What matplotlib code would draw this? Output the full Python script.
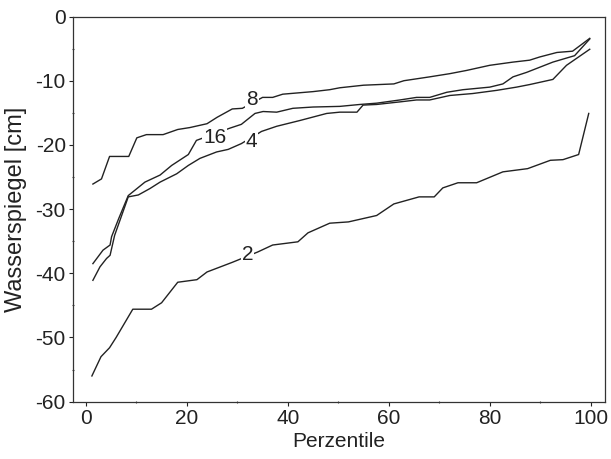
import matplotlib
matplotlib.use("Agg")
import matplotlib.pyplot as plt
from matplotlib.ticker import MultipleLocator

plt.rcParams['font.family'] = ['Liberation Sans', 'DejaVu Sans']
plt.rcParams['axes.unicode_minus'] = False

# Data (percentile, water level in cm)
p2 = [1.2, 3, 4.7, 6, 9.3, 13, 15, 18.2, 22, 24, 29, 34, 37, 42, 44, 48.3, 52, 57.6, 61, 66,
      69, 70.7, 73.7, 77.4, 82.6, 87.5, 92, 94.5, 97.6, 99.6]
v2 = [-56, -53, -51.6, -50, -45.6, -45.6, -44.6, -41.4, -41, -39.8, -38.3, -36.7, -35.6, -35.1,
      -33.7, -32.2, -32, -31, -29.2, -28.1, -28.1, -26.7, -25.9, -25.9, -24.2, -23.7, -22.4,
      -22.3, -21.5, -15.1]

p8 = [1.4, 3.1, 4.7, 8.5, 10.1, 12, 15.3, 18.2, 20.6, 24, 26, 29, 31, 35, 37, 39, 45, 48.3,
      50.3, 55, 61, 63, 68.1, 72.1, 75.4, 80, 84.6, 87.9, 89.9, 93.3, 96.4, 99.8]
v8 = [-26.1, -25.3, -21.8, -21.8, -18.9, -18.4, -18.4, -17.6, -17.3, -16.7, -15.7, -14.4,
      -14.3, -12.6, -12.6, -12.1, -11.7, -11.4, -11.1, -10.7, -10.5, -10.0, -9.4, -8.9, -8.4,
      -7.6, -7.1, -6.8, -6.3, -5.6, -5.4, -3.4]

p16 = [1.4, 3.4, 4.8, 5.1, 6.5, 8.4, 11.7, 14.7, 17, 20.3, 21.9, 28.5, 30.8, 33.5, 35.1, 37.8,
       41, 45, 50.3, 54.3, 57.6, 62.2, 65.5, 68.1, 71.5, 74.7, 80, 82.6, 84.6, 87.3, 92.5,
       96.8, 99.8]
v16 = [-38.5, -36.4, -35.6, -34.3, -31.5, -27.9, -25.8, -24.7, -23.2, -21.5, -19.3, -17.4,
       -16.8, -15.1, -14.8, -14.9, -14.3, -14.1, -14.0, -13.7, -13.5, -13.0, -12.6, -12.6,
       -11.8, -11.4, -11.0, -10.5, -9.4, -8.7, -7.1, -6.1, -3.5]

p4 = [1.4, 2.8, 4.1, 4.8, 5.7, 8.4, 10.4, 12.7, 14.7, 18, 20.3, 22.6, 25.9, 28.2, 30.8, 34.8,
      37.8, 42.4, 47.7, 50.3, 53.7, 54.9, 57.6, 62.2, 65.5, 68.1, 72.1, 76.6, 81.4, 85.3,
      87.9, 92.5, 95.2, 99.8]
v4 = [-41.1, -39, -37.7, -37.2, -34.1, -28.1, -27.8, -26.8, -25.8, -24.5, -23.2, -22.1,
      -21.1, -20.7, -19.8, -17.9, -17.1, -16.2, -15.1, -14.9, -14.9, -13.8, -13.7, -13.3,
      -13.0, -13.0, -12.3, -12.0, -11.5, -11.0, -10.6, -9.8, -7.6, -5.1]

series = [("2", p2, v2, 32.1, -37.0), ("4", p4, v4, 32.8, -19.4),
          ("8", p8, v8, 32.9, -13.0), ("16", p16, v16, 25.5, -18.8)]

fig = plt.figure(figsize=(6.11, 4.59), dpi=100)
ax = fig.add_axes([0.119, 0.125, 0.871, 0.839])

for name, px, py, lx, ly in series:
    ax.plot(px, py, color='#222222', lw=1.0)
    ax.text(lx, ly, name, fontsize=15, ha='center', va='center', color='#222222',
            bbox=dict(facecolor='white', edgecolor='none', pad=0.6))

ax.set_xlim(-2.6, 102.8)
ax.set_ylim(-60, 0)
ax.xaxis.set_major_locator(MultipleLocator(20))
ax.xaxis.set_minor_locator(MultipleLocator(10))
ax.yaxis.set_major_locator(MultipleLocator(10))
ax.yaxis.set_minor_locator(MultipleLocator(5))
ax.tick_params(which='major', direction='out', length=3, width=0.8, labelsize=15,
               colors='#222222', pad=2)
ax.tick_params(which='minor', direction='inout', length=2, width=0.8, colors='#444444')
for s in ax.spines.values():
    s.set_linewidth(0.9)
    s.set_color('#333333')

ax.set_xlabel('Perzentile', fontsize=15, color='#222222', labelpad=3)
ax.set_ylabel('Wasserspiegel [cm]', fontsize=17, color='#222222')
ax.yaxis.set_label_coords(-0.085, 0.5)

fig.savefig('out.png', dpi=100)
